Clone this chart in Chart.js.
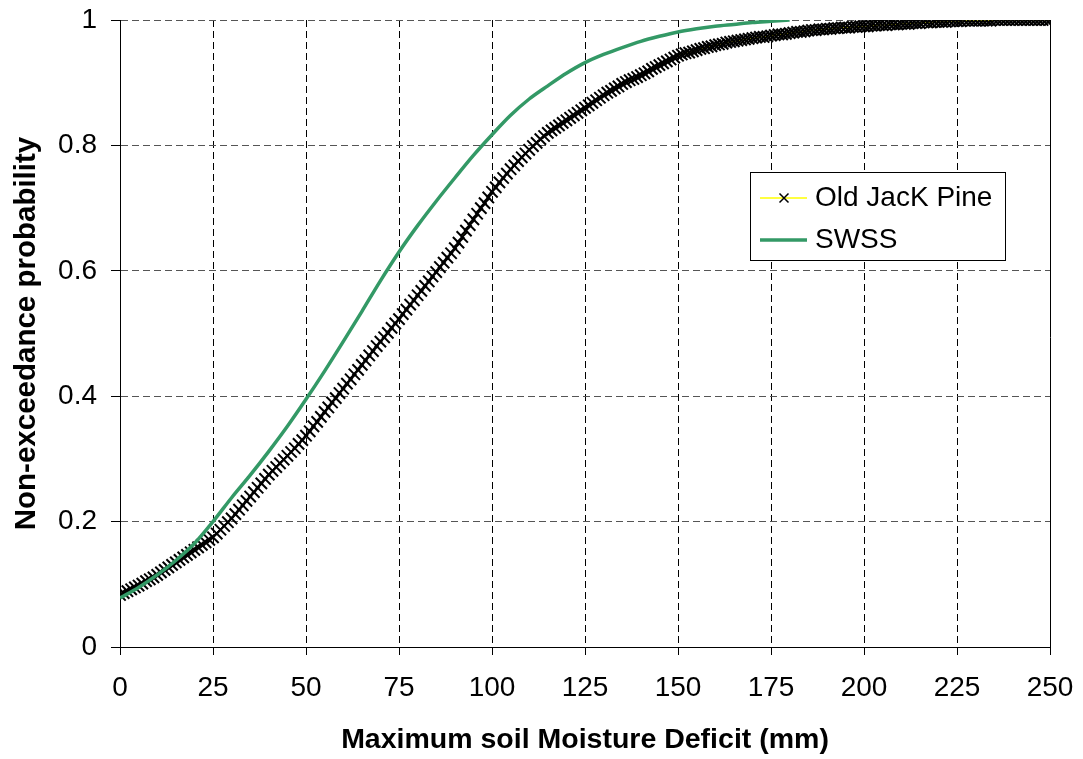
<!DOCTYPE html>
<html><head><meta charset="utf-8">
<script src="https://cdn.jsdelivr.net/npm/chart.js@4/dist/chart.umd.min.js"></script>
<style>html,body{margin:0;padding:0;background:#fff;}canvas{display:block;}</style>
</head><body>
<canvas id="c" width="1083" height="759"></canvas>
<script>
const seriesNames = ['Old JacK Pine', 'SWSS'];
const xTicks = [0, 25, 50, 75, 100, 125, 150, 175, 200, 225, 250];
const yTicks = [0, 0.2, 0.4, 0.6, 0.8, 1];

const jackPineX = [
0,1,2,3,4,5,6,7,8,9,10,11,12,13,14,15,16,17,18,19,20,21,22,23,24,25,26,27,28,29,30,
31,32,33,34,35,36,37,38,39,40,41,42,43,44,45,46,47,48,49,50,51,52,53,54,55,56,57,58,59,60,
61,62,63,64,65,66,67,68,69,70,71,72,73,74,75,76,77,78,79,80,81,82,83,84,85,86,87,88,89,90,
91,92,93,94,95,96,97,98,99,100,101,102,103,104,105,106,107,108,109,110,111,112,113,114,115,116,117,118,119,120,
121,122,123,124,125,126,127,128,129,130,131,132,133,134,135,136,137,138,139,140,141,142,143,144,145,146,147,148,149,150,
151,152,153,154,155,156,157,158,159,160,161,162,163,164,165,166,167,168,169,170,171,172,173,174,175,176,177,178,179,180,
181,182,183,184,185,186,187,188,189,190,191,192,193,194,195,196,197,198,199,200,201,202,203,204,205,206,207,208,209,210,
211,212,213,214,215,216,217,218,219,220,221,222,223,224,225,226,227,228,229,230,231,232,233,234,235,236,237,238,239,240,
241,242,243,244,245,246,247,248,249,250];
const jackPineY = [
.083,.086,.089,.092,.095,.098,.101,.105,.108,.111,.115,
.119,.123,.127,.131,.135,.139,.143,.147,.151,.155,
.159,.163,.167,.171,.175,.181,.187,.193,.199,.205,
.212,.219,.226,.233,.240,.247,.254,.261,.268,.275,
.281,.287,.293,.299,.305,.311,.317,.324,.330,.337,
.344,.352,.359,.367,.375,.382,.390,.397,.405,.412,
.420,.427,.435,.442,.450,.457,.465,.472,.480,.487,
.494,.501,.509,.516,.523,.531,.538,.546,.553,.561,
.568,.576,.583,.591,.598,.606,.613,.621,.628,.636,
.645,.654,.664,.673,.682,.691,.700,.708,.717,.726,
.733,.741,.748,.755,.762,.768,.775,.781,.787,.793,
.799,.804,.810,.815,.820,.824,.828,.832,.836,.840,
.844,.848,.852,.856,.860,.864,.868,.872,.876,.880,
.884,.887,.891,.894,.898,.901,.904,.906,.909,.912,
.915,.918,.922,.925,.928,.931,.934,.937,.940,.943,
.945,.947,.948,.950,.952,.954,.955,.957,.958,.960,
.961,.962,.964,.965,.966,.967,.968,.969,.970,.971,
.972,.973,.973,.974,.975,.976,.977,.977,.978,.979,
.980,.981,.981,.982,.983,.984,.984,.985,.985,.986,
.986,.987,.987,.988,.988,.988,.989,.989,.990,.990,
.990,.991,.991,.992,.992,.992,.993,.993,.993,.994,
.994,.994,.995,.995,.995,.996,.996,.996,.997,.997,
.997,.997,.998,.998,.998,.998,.999,.999,.999,.999,
.999,.999,.999,.999,1,1,1,1,1,1,
1,1,1,1,1,1,1,1,1,1];

const swssX = [0,5,10,15,20,25,30,35,40,45,50,55,60,65,70,75,80,85,90,95,100,105,110,115,120,125,130,135,140,145,150,155,160,165,170,175,180];
const swssY = [0.078,0.095,0.115,0.138,0.165,0.200,0.238,0.274,0.312,0.352,0.395,0.440,0.487,0.535,0.584,0.630,0.672,0.711,0.748,0.784,0.817,0.848,0.874,0.895,0.915,0.932,0.945,0.956,0.966,0.974,0.981,0.986,0.990,0.993,0.996,0.998,1.000];

const toPts = (xs, ys) => xs.map((x, i) => ({x: x, y: ys[i]}));
const FONT = '"Liberation Sans", Arial, sans-serif';

const rightEdge = {
  id: 'rightEdge',
  beforeDatasetsDraw(chart) {
    const a = chart.chartArea, ctx = chart.ctx;
    const x = Math.round(a.right) + 0.5;
    ctx.save();
    ctx.strokeStyle = '#000'; ctx.lineWidth = 1;
    ctx.beginPath(); ctx.moveTo(x, a.top); ctx.lineTo(x, a.bottom + 8); ctx.stroke();
    ctx.restore();
  }
};

const boxLegend = {
  id: 'boxLegend',
  afterDraw(chart) {
    const ctx = chart.ctx, ds = chart.data.datasets;
    ctx.save();
    ctx.fillStyle = '#fff';
    ctx.fillRect(750, 172, 255, 88);
    ctx.strokeStyle = '#000'; ctx.lineWidth = 1;
    ctx.strokeRect(750.5, 172.5, 255, 88);
    const rows = [198, 240];
    ds.forEach((d, i) => {
      const y = rows[i];
      ctx.strokeStyle = d.borderColor;
      ctx.lineWidth = i === 0 ? 1.5 : d.borderWidth;
      ctx.beginPath(); ctx.moveTo(760, y); ctx.lineTo(807, y); ctx.stroke();
      if (d.pointRadius > 0) {
        const r = 4.5;
        ctx.strokeStyle = d.pointBorderColor; ctx.lineWidth = 1.5;
        ctx.beginPath();
        ctx.moveTo(784 - r, y - r); ctx.lineTo(784 + r, y + r);
        ctx.moveTo(784 - r, y + r); ctx.lineTo(784 + r, y - r);
        ctx.stroke();
      }
      ctx.fillStyle = '#000';
      ctx.font = '28px ' + FONT;
      ctx.textBaseline = 'middle';
      ctx.textAlign = 'left';
      ctx.fillText(d.label, 815, y);
    });
    ctx.restore();
  }
};

const noPad = s => { s.paddingTop = 0; s.paddingBottom = 0; s.paddingLeft = 0; s.paddingRight = 0; };

new Chart(document.getElementById('c'), {
  type: 'scatter',
  data: {
    datasets: [
      {
        label: seriesNames[0],
        data: toPts(jackPineX, jackPineY),
        showLine: true,
        borderColor: '#FFFF00',
        borderWidth: 1,
        pointStyle: 'crossRot',
        pointRadius: 8,
        pointBorderColor: '#000',
        pointBackgroundColor: '#000',
        pointBorderWidth: 2,
        order: 1
      },
      {
        label: seriesNames[1],
        data: toPts(swssX, swssY),
        showLine: true,
        borderColor: '#339966',
        borderWidth: 3.5,
        pointRadius: 0,
        cubicInterpolationMode: 'monotone',
        order: 0
      }
    ]
  },
  options: {
    responsive: false,
    animation: false,
    devicePixelRatio: 1,
    layout: {padding: {top: 20, right: 33, left: 0, bottom: 0}},
    plugins: {legend: {display: false}, tooltip: {enabled: false}},
    scales: {
      x: {
        type: 'linear', min: 0, max: 250,
        afterFit: s => { s.height = 112; noPad(s); },
        afterBuildTicks: s => { s.ticks = xTicks.map(v => ({value: v})); },
        ticks: {autoSkip: false, maxRotation: 0, padding: 16, color: '#000', font: {family: FONT, size: 28},
          callback: v => String(v)},
        grid: {
          color: c => (c.tick && c.tick.value === 250) ? 'rgba(0,0,0,0)' : '#000',
          lineWidth: 1, tickLength: 8, tickColor: '#000', tickWidth: 1
        },
        border: {display: true, color: '#000', width: 1, dash: [7, 4]},
        title: {display: true, text: 'Maximum soil Moisture Deficit (mm)', color: '#000',
          font: {family: FONT, size: 28.5, weight: 'bold'}, padding: {top: 0, bottom: 2}}
      },
      y: {
        type: 'linear', min: 0, max: 1,
        afterFit: s => { s.width = 120; noPad(s); },
        afterBuildTicks: s => { s.ticks = yTicks.map(v => ({value: v})); },
        ticks: {padding: 14, color: '#000', font: {family: FONT, size: 28}, callback: v => String(v)},
        grid: {color: '#555', lineWidth: 1, tickLength: 9, tickColor: '#000', tickWidth: 1},
        border: {display: true, color: '#000', width: 1, dash: [7, 4]},
        title: {display: true, text: 'Non-exceedance probability', color: '#000',
          font: {family: FONT, size: 29.5, weight: 'bold'}, padding: {top: 9, bottom: 0}}
      }
    }
  },
  plugins: [rightEdge, boxLegend]
});
</script>
</body></html>
